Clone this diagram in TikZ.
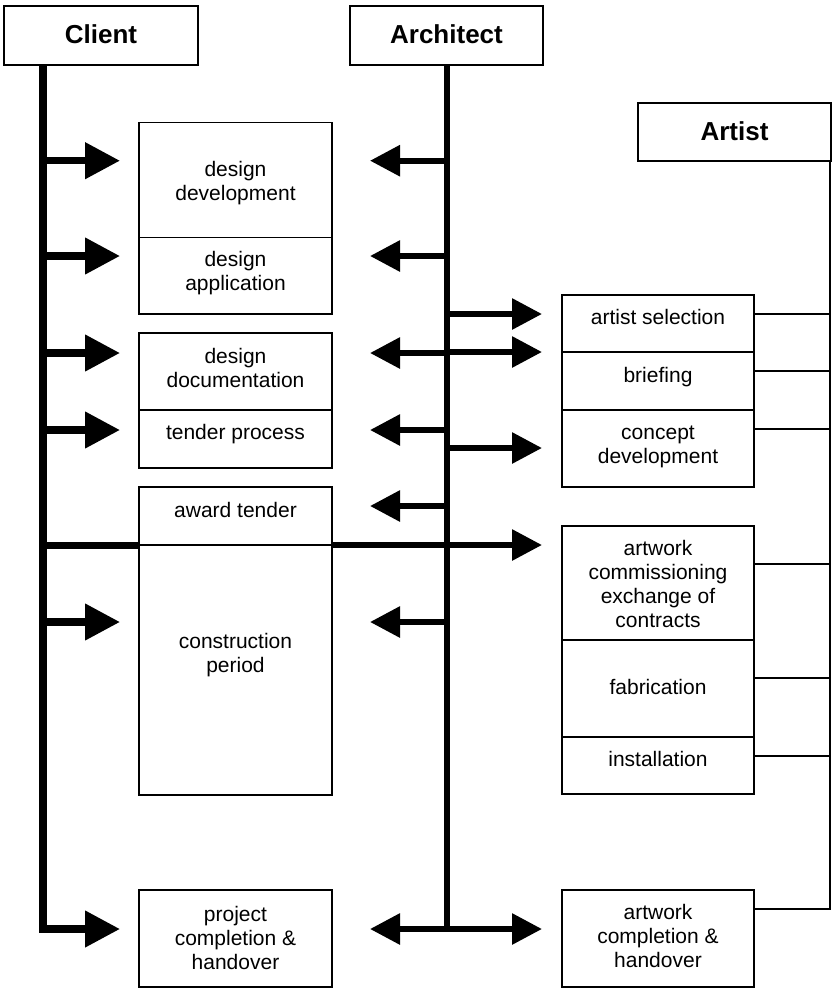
\documentclass[tikz,border=0pt]{standalone}
\usepackage{fontspec}
\setmainfont{Liberation Sans}
\usetikzlibrary{arrows.meta}
% strut that centres each line on its x-height
\newcommand\tstrut{\rule[-5.1pt]{0pt}{21.1pt}}
\begin{document}
\begin{tikzpicture}[x=1pt,y=-1pt,
  head/.style={draw, line width=1.3pt, rectangle, inner sep=0pt, outer sep=0pt,
    minimum height=59pt, font=\bfseries\fontsize{26}{30}\selectfont,
    text height=19pt, text depth=3pt},
  cell/.style={draw, line width=1.3pt, rectangle, inner sep=0pt, outer sep=0pt,
    minimum width=193pt},
  lbl/.style={font=\fontsize{21}{24}\selectfont, align=center, inner sep=0pt},
  link/.style={line width=1.3pt},
  cline/.style={line width=7.5pt, line join=miter},
  aline/.style={line width=6pt, line join=miter},
  carrow/.style={line width=7.5pt, line join=miter, -{Triangle[length=35pt,width=35pt]}},
  aarrow/.style={line width=6pt, line join=miter, -{Triangle[length=30pt,width=30pt]}},
]
\useasboundingbox (0,0) rectangle (832,989);

% role headers
\node[head, minimum width=194pt] (client) at (101,35.5) {Client};
\node[head, minimum width=193pt] (architect) at (446.5,35.5) {Architect};
\node[head, minimum width=193pt, minimum height=58pt] (artist) at (734.5,132) {Artist};

% building project stages
\node[cell, minimum height=115.4pt, label={[lbl,yshift=-3pt]center:{\tstrut design\\\tstrut development}}] (dd) at (235.5,180) {};
\node[cell, minimum height=76.3pt, label={[lbl,yshift=3pt]center:{\tstrut design\\\tstrut application}}] (da) at (235.5,275.85) {};
\node[cell, minimum height=77pt, label={[lbl,yshift=1.5pt]center:{\tstrut design\\\tstrut documentation}}] (ddoc) at (235.5,371.5) {};
\node[cell, minimum height=58pt, label={[lbl,yshift=4.5pt]center:{\tstrut tender process}}] (tp) at (235.5,439) {};
\node[cell, minimum height=58pt, label={[lbl,yshift=4pt]center:{\tstrut award tender}}] (at) at (235.5,516) {};
\node[cell, minimum height=250pt, label={[lbl,yshift=15pt]center:{\tstrut construction\\\tstrut period}}] (cp) at (235.5,670) {};
\node[cell, minimum height=97pt, label={[lbl,yshift=-1.5pt]center:{\tstrut project\\\tstrut completion \&\\\tstrut handover}}] (pc) at (235.5,938.5) {};

% artwork stages
\node[cell, minimum width=192pt, minimum height=57pt, label={[lbl,yshift=4pt]center:{\tstrut artist selection}}] (as) at (658,323.5) {};
\node[cell, minimum width=192pt, minimum height=58pt, label={[lbl,yshift=4pt]center:{\tstrut briefing}}] (br) at (658,381) {};
\node[cell, minimum width=192pt, minimum height=77pt, label={[lbl,yshift=2pt]center:{\tstrut concept\\\tstrut development}}] (cd) at (658,448.5) {};
\node[cell, minimum width=192pt, minimum height=114pt, label={[lbl,yshift=-3.5pt]center:{\tstrut artwork\\\tstrut commissioning\\\tstrut exchange of\\\tstrut contracts}}] (ac) at (658,583) {};
\node[cell, minimum width=192pt, minimum height=97pt, label={[lbl,yshift=-1pt]center:{\tstrut fabrication}}] (fa) at (658,688.5) {};
\node[cell, minimum width=192pt, minimum height=57pt, label={[lbl,yshift=4.5pt]center:{\tstrut installation}}] (in) at (658,765.5) {};
\node[cell, minimum width=192pt, minimum height=97pt, label={[lbl]center:{\tstrut artwork\\\tstrut completion \&\\\tstrut handover}}] (awc) at (658,938.5) {};

% lifelines
\coordinate (cl-top) at (43,65);
\coordinate (cl-bot) at (43,929);
\coordinate (ar-top) at (446.5,65);
\coordinate (ar-bot) at (446.5,929);
\coordinate (at-l) at (43,545);
\coordinate (at-r) at (542,545);
\coordinate (pc-in) at (120,929);
\coordinate (pc-ar) at (370,929);
\coordinate (awc-in) at (542,929);

\draw[carrow] (cl-top) -- (cl-bot) -- (pc-in);
\draw[aarrow] (ar-top) -- (ar-bot) -- (awc-in);
\draw[aarrow] (ar-bot) -- (pc-ar);

% award of tender: client to architect to artwork commissioning
\draw[line width=7pt] (at-l) -- (at.south west);
\draw[aarrow] (at.south east) -- (at-r);

% client instructions
\foreach \n/\y in {dd/160.7, da/256, ddoc/353, tp/430, cp/622} {
  \coordinate (cs-\n) at (43,\y);
  \coordinate (ce-\n) at (120,\y);
  \draw[carrow] (cs-\n) -- (ce-\n);
}

% architect to building stages
\foreach \n/\y in {dd/160.7, da/256, ddoc/353, tp/430, at/506, cp/622} {
  \coordinate (as-\n) at (446.5,\y);
  \coordinate (ae-\n) at (370,\y);
  \draw[aarrow] (as-\n) -- (ae-\n);
}

% architect to artwork stages
\foreach \n/\y in {as/314, br/352, cd/448} {
  \coordinate (bs-\n) at (446.5,\y);
  \coordinate (be-\n) at (542,\y);
  \draw[aarrow] (bs-\n) -- (be-\n);
}

% artist lifeline and its links
\coordinate (at-top) at (830,161);
\coordinate (at-bot) at (830,909);
\coordinate (awc-out) at (754,909);
\draw[link] (at-top) -- (at-bot) -- (awc-out);
\foreach \n/\y in {as/314, br/371, cd/429, ac/564, fa/678, in/756} {
  \coordinate (ls-\n) at (754,\y);
  \coordinate (le-\n) at (830,\y);
  \draw[link] (ls-\n) -- (le-\n);
}
\end{tikzpicture}
\end{document}
